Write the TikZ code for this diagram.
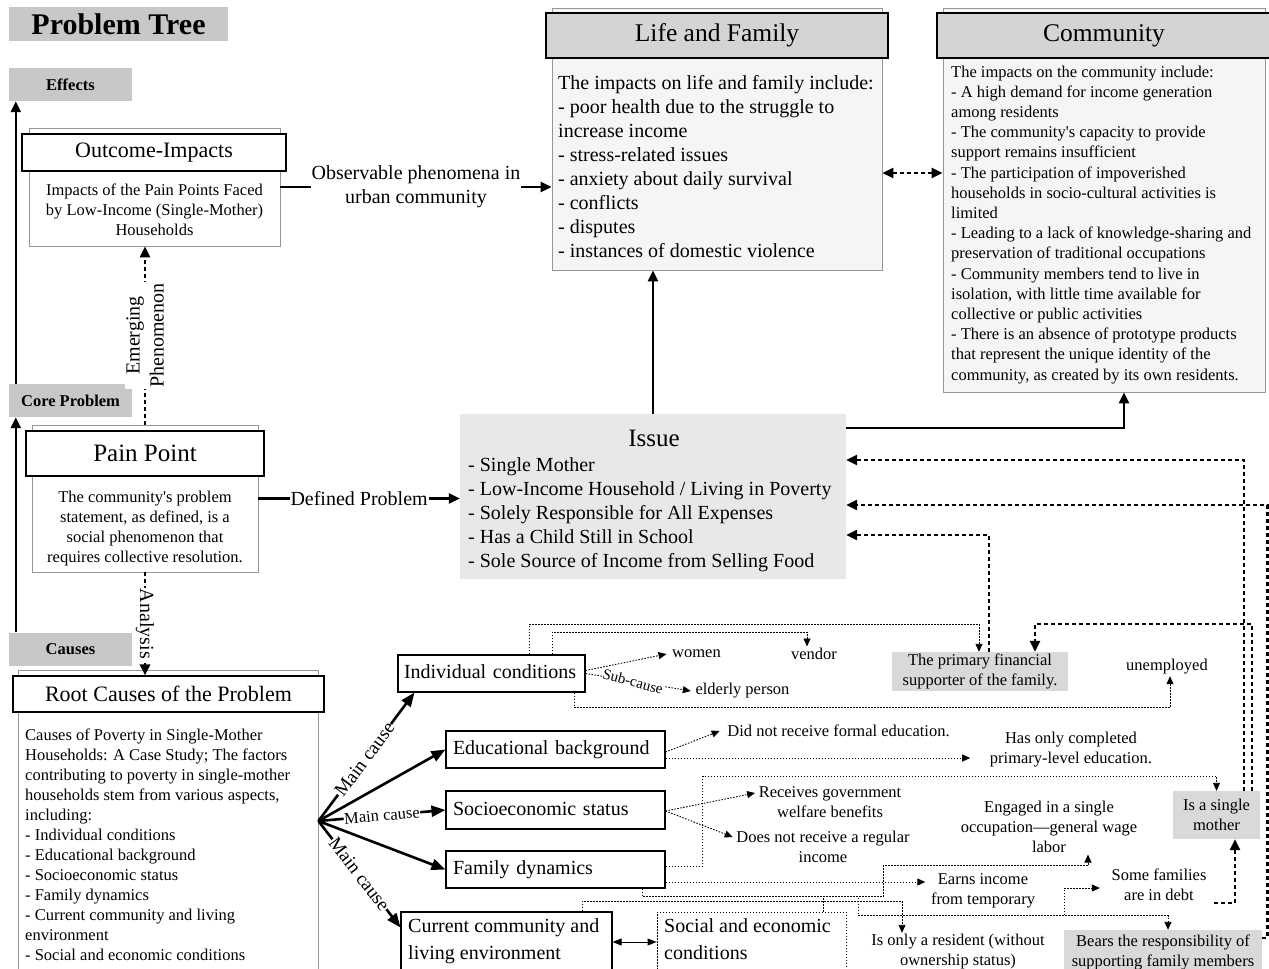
\documentclass[tikz,border=0pt]{standalone}
\usepackage{fontspec}
\setmainfont{Liberation Serif}[Ligatures=TeXOff]
\usetikzlibrary{arrows.meta,calc}
\newcommand\fsz[2]{\fontsize{#1}{#2}\selectfont}
\definecolor{tagfill}{RGB}{200,200,200}
\definecolor{headfill}{RGB}{212,212,212}
\definecolor{panelfill}{RGB}{245,245,245}
\definecolor{issuefill}{RGB}{232,232,232}
\definecolor{notefill}{RGB}{217,217,217}
\definecolor{rimgray}{RGB}{150,150,150}
\tikzset{
  tag/.style={fill=tagfill,inner sep=0pt,font=\bfseries\fsz{16.5}{20}},
  rim/.style={draw=rimgray,line width=0.8pt,fill=white,inner sep=0pt},
  panel/.style={draw=rimgray,line width=0.8pt,fill=panelfill,inner sep=0pt},
  headbox/.style={draw=black,line width=1.1pt,fill=white,inner sep=0pt},
  greyhead/.style={headbox,fill=headfill,font=\fsz{25.5}{30}},
  causebox/.style={draw=black,line width=1.1pt,fill=white,inner xsep=7pt,inner ysep=0pt,
    align=left,font=\fsz{20}{26},text height=14pt,text depth=4pt},
  note/.style={fill=notefill,inner sep=0pt,align=center,font=\fsz{16.5}{20}},
  lbl/.style={inner sep=1.5pt,align=center,font=\fsz{16.5}{20}},
  % anchored at the baseline of the last line
  para/.style={inner sep=0pt,align=left,anchor=base west},
  cpara/.style={inner sep=0pt,align=center,anchor=base,font=\fsz{16.5}{20}},
  onlabel/.style={fill=white,inner sep=1pt,align=center,font=\fsz{20}{24}},
  causelabel/.style={sloped,fill=white,inner sep=0.5pt,font=\fsz{19}{22}},
  heavy/.style={line width=2.4pt,-{Triangle[length=11pt,width=10pt]}},
  mainarrow/.style={line width=2.6pt,-{Triangle[length=14pt,width=11pt]}},
  dashheavy/.style={line width=2.6pt,dash pattern=on 4pt off 3pt,-{Triangle[length=11pt,width=10pt]}},
  dotarrow/.style={line width=0.9pt,dash pattern=on 1.5pt off 1.5pt,-{Triangle[length=8pt,width=7pt]}},
  dotline/.style={line width=0.9pt,dash pattern=on 1.5pt off 1.5pt},
}
\begin{document}
\begin{tikzpicture}[x=1pt,y=-1pt]
\useasboundingbox (0,0) rectangle (1269,969);
\clip (0,0) rectangle (1269,969);

% ---------- side tags ----------
\node[tag,font=\bfseries\fsz{30}{36},minimum width=219pt,minimum height=34pt] (title) at (118.5,24) {Problem Tree};
\node[tag,minimum width=123pt,minimum height=33pt] (effects) at (70.5,84.5) {Effects};
\node[tag,minimum width=123pt,minimum height=33pt] (core) at (70.5,400.5) {Core Problem};
\node[tag,minimum width=123pt,minimum height=33pt] (causes) at (70.5,649) {Causes};
\draw[heavy] ($(causes.north west)+(7,0)$) -- ($(core.south west)+(7,0)$);
\draw[heavy] ($(core.north west)+(7,0)$) -- ($(effects.south west)+(7,0)$);

% ---------- Outcome-Impacts ----------
\node[rim,minimum width=251pt,minimum height=118pt] (outbody) at (154.5,187) {};
\node[headbox,minimum width=264pt,minimum height=37pt,font=\fsz{22}{26}] (outhead) at (154,152.5) {Outcome-Impacts};
\node[cpara] (outtext) at (154.5,235) {Impacts of the Pain Points Faced\\by Low-Income (Single-Mother)\\Households};

% ---------- Pain Point ----------
\node[rim,minimum width=226pt,minimum height=147pt] (painbody) at (145,498.5) {};
\node[headbox,minimum width=238pt,minimum height=45pt,font=\fsz{25}{30}] (painhead) at (145,453.5) {Pain Point};
\node[cpara] (paintext) at (145,562) {The community's problem\\statement, as defined, is a\\social phenomenon that\\requires collective resolution.};

% ---------- Root causes ----------
\node[rim,minimum width=300pt,minimum height=320pt] (rootbody) at (168,830) {};
\node[headbox,minimum width=311pt,minimum height=36pt,font=\fsz{22}{26}] (roothead) at (168.5,694) {Root Causes of the Problem};
\node[para,font=\fsz{16.5}{20}] (roottext) at (25,960) {Causes of Poverty in Single-Mother\\Households: A Case Study; The factors\\contributing to poverty in single-mother\\households stem from various aspects,\\including:\\- Individual conditions\\- Educational background\\- Socioeconomic status\\- Family dynamics\\- Current community and living\\environment\\- Social and economic conditions};

% ---------- Life and Family ----------
\node[panel,minimum width=330pt,minimum height=262pt] (lifebody) at (717,139) {};
\node[greyhead,minimum width=342pt,minimum height=45pt] (lifehead) at (717,35.5) {Life and Family};
\node[para,font=\fsz{20}{24}] (lifetext) at (558,257.5) {The impacts on life and family include:\\- poor health due to the struggle to\\increase income\\- stress-related issues\\- anxiety about daily survival\\- conflicts\\- disputes\\- instances of domestic violence};

% ---------- Community ----------
\node[panel,minimum width=322pt,minimum height=384pt] (commbody) at (1104,200) {};
\node[greyhead,minimum width=334pt,minimum height=45pt] (commhead) at (1104,35.5) {Community};
\node[para,font=\fsz{16.5}{20.2}] (commtext) at (951,380) {The impacts on the community include:\\- A high demand for income generation\\among residents\\- The community's capacity to provide\\support remains insufficient\\- The participation of impoverished\\households in socio-cultural activities is\\limited\\- Leading to a lack of knowledge-sharing and\\preservation of traditional occupations\\- Community members tend to live in\\isolation, with little time available for\\collective or public activities\\- There is an absence of prototype products\\that represent the unique identity of the\\community, as created by its own residents.};

% ---------- Issue ----------
\node[fill=issuefill,minimum width=386pt,minimum height=165pt,inner sep=0pt] (issue) at (653,496.5) {};
\node[font=\fsz{25}{30},inner sep=0pt] (issuetitle) at (654,438) {Issue};
\node[para,font=\fsz{20}{24}] (issuetext) at (468,567) {- Single Mother\\- Low-Income Household / Living in Poverty\\- Solely Responsible for All Expenses\\- Has a Child Still in School\\- Sole Source of Income from Selling Food};

% ---------- cause boxes ----------
\node[causebox,inner xsep=6pt,text width=175pt,minimum height=37pt] (indiv) at (491.5,673.5) {Individual conditions};
\node[causebox,text width=205pt,minimum height=37pt] (edu) at (555.5,749.5) {Educational background};
\node[causebox,text width=205pt,minimum height=38pt] (socio) at (555.5,810) {Socioeconomic status};
\node[causebox,text width=205pt,minimum height=37pt] (family) at (555.5,869.5) {Family dynamics};
\node[draw,line width=1.1pt,fill=white,minimum width=211pt,minimum height=70pt,inner sep=0pt] (curr) at (506.5,947) {};
\node[para,font=\fsz{20}{27}] (currtext) at (408,959.5) {Current community and\\living environment};
\node[dotline,draw,minimum width=189pt,minimum height=70pt,inner sep=0pt] (social) at (751.5,947) {};
\node[para,font=\fsz{20}{27}] (socialtext) at (664,959.5) {Social and economic\\conditions};

% ---------- sub-cause items ----------
\node[lbl] (women) at (696.5,654) {women};
\node[lbl] (vendor) at (814,654) {vendor};
\node[lbl] (elderly) at (742.5,691) {elderly person};
\node[lbl] (unemp) at (1167,667) {unemployed};
\node[note,minimum width=176pt,minimum height=39pt] (primary) at (980,671.5) {The primary financial\\supporter of the family.};
\node[lbl] (didnot) at (838.5,731) {Did not receive formal education.};
\node[lbl] (hasonly) at (1071,750) {Has only completed\\primary-level education.};
\node[lbl] (receives) at (830,802.5) {Receives government\\welfare benefits};
\node[lbl] (doesnot) at (823,847) {Does not receive a regular\\income};
\node[lbl] (engaged) at (1049,827) {Engaged in a single\\occupation—general wage\\labor};
\node[note,minimum width=87pt,minimum height=48pt] (single) at (1216.5,815) {Is a single\\mother};
\node[lbl] (earns) at (983,891) {Earns income\\from temporary};
\node[lbl] (some) at (1159,885) {Some families\\are in debt};
\node[lbl] (resident) at (958,952) {Is only a resident (without\\ownership status)};
\node[note,minimum width=198pt,minimum height=44pt] (bears) at (1163,952) {Bears the responsibility of\\supporting family members};

% ---------- main flow ----------
\draw[heavy] (outbody.east) -- (outbody.east -| lifebody.west)
  node[midway,onlabel] (obslbl) {Observable phenomena in\\urban community};
\draw[heavy] (painbody.east) -- (painbody.east -| issue.west)
  node[midway,onlabel] (deflbl) {Defined Problem};
\draw[dashheavy] (painbody.north) -- (painbody.north |- outbody.south)
  node[midway,onlabel,rotate=90] (emlbl) {Emerging\\Phenomenon};
\draw[dashheavy] (painbody.south) -- (painbody.south |- roothead.north)
  node[midway,onlabel,rotate=-90] (analbl) {Analysis};
\draw[heavy] (issue.north) -- (issue.north |- lifebody.south);
\draw[heavy] ($(issue.north east)+(0,14)$) -| ($(commbody.south)+(20,0)$);
\draw[dashheavy,{Triangle[length=11pt,width=10pt]}-{Triangle[length=11pt,width=10pt]}]
  ($(lifebody.east)+(0,34)$) -- ($(commbody.west)+(0,-27)$);

% ---------- main causes ----------
\coordinate (fan) at ($(rootbody.east)+(0,-9)$);
\draw[mainarrow] (fan) -- ($(indiv.south west)+(17,0)$)
  node[pos=0.48,causelabel] (mc1) {Main cause};
\draw[mainarrow] (fan) -- (edu.west);
\draw[mainarrow] (fan) -- (socio.west)
  node[pos=0.5,causelabel,font=\fsz{16.5}{20}] (mc2) {Main cause};
\draw[mainarrow] (fan) -- (family.west);
\draw[mainarrow] (fan) -- ($(curr.north west)+(0,16)$)
  node[pos=0.5,causelabel] (mc3) {Main cause};

% ---------- sub-causes (dotted) ----------
\draw[dotarrow] ($(indiv.east)+(0,-3)$) -- ($(women.west)+(-4,0)$);
\draw[dotarrow] (indiv.east) -- ($(elderly.west)+(-3,0)$)
  node[pos=0.45,fill=white,inner sep=0.3pt,rotate=-15,font=\fsz{15}{18}] (sublbl) {Sub-cause};
\draw[dotarrow] ($(indiv.north)+(37.5,0)$) -- ++(0,-30) -| ($(primary.north)+(-1,0)$);
\draw[dotarrow] ($(indiv.north)+(60.5,0)$) -- ++(0,-22) -| ($(vendor.north)+(-7,0)$);
\draw[dotarrow] ($(indiv.south)+(82.5,0)$) -- ++(0,15) -| ($(unemp.south)+(3,0)$);

\draw[dotarrow] ($(edu.east)+(0,2.5)$) -- ($(didnot.west)+(-6,0)$);
\draw[dotarrow] ($(edu.east)+(0,8.5)$) -- ($(edu.east -| hasonly.west)+(-18,8.5)$);

\draw[dotarrow] ($(socio.east)+(0,1)$) -- ($(receives.west)+(-2,-9.5)$);
\draw[dotarrow] ($(socio.east)+(0,1)$) -- ($(doesnot.west)+(-2,-10)$);

\draw[dotarrow] ($(family.east)+(0,-3.5)$) -- ++(37,0) -- ++(0,-90) -| (single.north);
\draw[dotarrow] ($(family.east)+(0,12.5)$) -- ($(earns.west)+(-4,-9)$);
\draw[dotarrow] ($(family.south)+(86.5,0)$) -- ++(0,8) -- ++(216,0) -- ++(0,19) -| ($(bears.north)+(5,0)$);
\coordinate (fork) at (1064,915);
\draw[dotarrow] (fork) |- ($(some.west)+(-10,3)$);

\draw[dotarrow] ($(curr.north)+(75.5,0)$) -- ++(0,-10) -| ($(resident.north)+(-56,0)$);
\draw[dotarrow] ($(social.north)+(71.5,0)$) -- ++(0,-15) -- ++(60,0) -- ++(0,-31) -| ($(engaged.south)+(39,0)$);

\draw[{Triangle[length=9pt,width=7pt]}-{Triangle[length=9pt,width=7pt]},line width=1pt]
  ($(curr.east)+(0,-5)$) -- ($(social.west)+(0,-5)$);

% ---------- feedback to the issue (dashed) ----------
\draw[dashheavy] ($(single.north)+(27.5,0)$) |- ($(issue.east)+(0,-36.5)$);
\draw[dashheavy] ($(bears.north east)+(0,8)$) -- ++(5,0) |- ($(issue.east)+(0,8.5)$);
\draw[dashheavy] ($(primary.north)+(9,0)$) |- ($(issue.east)+(0,38.5)$);
\draw[dashheavy] ($(single.north)+(35.5,0)$) -- ++(0,-167) -| ($(primary.north)+(55,0)$);
\draw[dashheavy] ($(some.east)+(6,18)$) -| ($(single.south)+(18.5,0)$);
\end{tikzpicture}
\end{document}
